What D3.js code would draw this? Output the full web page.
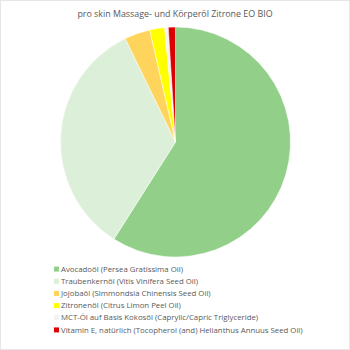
<!DOCTYPE html>
<html>
<head>
<meta charset="utf-8">
<script src="https://cdn.jsdelivr.net/npm/d3@7"></script>
<style>
  body { margin: 0; background: #fff; }
  text { font-family: "Open Sans", "Noto Sans", sans-serif; fill: #595959; }
</style>
</head>
<body>
<div id="chart"></div>
<script>
var width = 350,
    height = 350;

// data (percent of the blend)
var labels = [
  "Avocadoöl (Persea Gratissima Oil)",
  "Traubenkernöl (Vitis Vinifera Seed Oil)",
  "Jojobaöl (Simmondsia Chinensis Seed Oil)",
  "Zitronenöl (Citrus Limon Peel Oil)",
  "MCT-Öl auf Basis Kokosöl (Caprylic/Capric Triglyceride)",
  "Vitamin E, natürlich (Tocopherol (and) Helianthus Annuus Seed Oil)"
];
var values = [59.0, 33.8, 3.6, 2.1, 0.5, 1.0];
var colors = ["#92d08a", "#dcefd8", "#ffd45c", "#ffff00", "#f2f2f2", "#dd0000"];
var title = "pro skin Massage- und Körperöl Zitrone EO BIO";

var cx = 175.5, cy = 142, radius = 115;

var svg = d3.select("#chart")
  .append("svg")
  .attr("width", width)
  .attr("height", height);

// chart frame
svg.append("rect")
  .attr("x", 0.5)
  .attr("y", 0.5)
  .attr("width", width - 1)
  .attr("height", height - 1)
  .style("fill", "#fff")
  .style("stroke", "#e6e6e6");

// title
svg.append("text")
  .attr("x", width/2)
  .attr("y", 17)
  .attr("text-anchor", "middle")
  .style("font-size", "8.9px")
  .text(title);

// pie
var color = d3.scaleOrdinal().domain(labels).range(colors);

var pie = d3.pie()
  .sort(null)
  .value(function(d, i) { return values[i]; });

var arc = d3.arc()
  .innerRadius(0)
  .outerRadius(radius);

svg.append("g")
  .attr("transform", "translate(" + cx + "," + cy + ")")
  .selectAll("path")
  .data(pie(labels))
  .enter().append("path")
  .attr("d", arc)
  .style("fill", function(d) { return color(d.data); })
  .style("stroke", "#fff")
  .style("stroke-width", "0.5px");

// legend
var legendY = d3.scaleBand()
  .domain(labels)
  .range([263, 336]);

var legend = svg.append("g")
  .selectAll("g")
  .data(labels)
  .enter().append("g")
  .attr("transform", function(d) { return "translate(54," + (legendY(d) + legendY.bandwidth()/2) + ")"; });

legend.append("rect")
  .attr("x", 0)
  .attr("y", -2.5)
  .attr("width", 5)
  .attr("height", 5)
  .style("fill", function(d) { return color(d); });

legend.append("text")
  .attr("x", 7)
  .attr("y", 0)
  .attr("dy", "0.35em")
  .style("font-size", "7.8px")
  .text(function(d) { return d; });
</script>
</body>
</html>
